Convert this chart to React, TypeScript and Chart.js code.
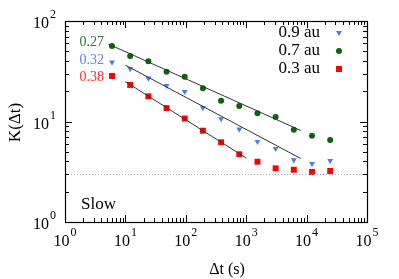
import React, { useEffect, useRef } from "react";
import { Chart, registerables } from "chart.js";

Chart.register(...registerables);

const times = [6, 12, 24, 48, 96, 192, 384, 768, 1536, 3072, 6144, 12288, 24576];
const k09 = [38.8, 33.5, 26.9, 22.7, 19.8, 13.7, 10.6, 8.36, 6.3, 5.36, 4.14, 3.8, 4.07];
const k07 = [56.4, 44.9, 39.7, 31.3, 27.9, 21.4, 16.1, 14.3, 12.1, 11.1, 8.29, 7.22, 6.55];
const k03 = [28.4, 23.1, 17.8, 13.6, 10.7, 8.1, 6.21, 4.72, 3.98, 3.42, 3.31, 3.15, 3.22];

const seriesLabels = ["0.9 au", "0.7 au", "0.3 au"];
const seriesColors = ["#4a7ee6", "#0b640b", "#ff0000"];
const slopeLabels = ["0.32", "0.27", "0.38"];
const slopeTextColors = ["#5b86e8", "#2a7a2a", "#ff2a2a"];
const slopeLabelK = [40.9, 61.8, 27.7];

// power-law fits K = A * t^-slope, over [t0, t1]
const fit09 = { a: 76.0, slope: 0.32, t0: 10, t1: 8000 };
const fit07 = { a: 92.2, slope: 0.27, t0: 5.2, t1: 8000 };
const fit03 = { a: 59.8, slope: 0.38, t0: 10, t1: 1000 };

const slowLevel = 3;
const slowLabel = "Slow";
const xTickValues = [1, 10, 100, 1000, 1e4, 1e5];
const xTickExps = ["0", "1", "2", "3", "4", "5"];
const yTickValues = [1, 10, 100];
const yTickExps = ["0", "1", "2"];
const xTitle = "Δt (s)";
const yTitle = "K(Δt)";

const FONT = "'Liberation Serif', 'DejaVu Serif', serif";

function fitLine(f: { a: number; slope: number; t0: number; t1: number }) {
  return [f.t0, f.t1].map((t) => ({ x: t, y: f.a * Math.pow(t, -f.slope) }));
}

function drawPow(ctx: CanvasRenderingContext2D, exp: string, x: number, baseline: number, align: "center" | "right") {
  ctx.font = `16px ${FONT}`;
  const wb = ctx.measureText("10").width;
  ctx.font = `12px ${FONT}`;
  const we = ctx.measureText(exp).width;
  const total = wb + 1 + we;
  const left = align === "center" ? x - total / 2 : x - total;
  ctx.textAlign = "left";
  ctx.textBaseline = "alphabetic";
  ctx.font = `16px ${FONT}`;
  ctx.fillText("10", left, baseline);
  ctx.font = `12px ${FONT}`;
  ctx.fillText(exp, left + wb + 1, baseline - 10);
}

const frame = {
  id: "frame",
  afterDatasetsDraw(chart: any) {
    const { ctx, chartArea: a, scales } = chart;
    const xs = scales.x;
    const ys = scales.y;
    ctx.save();
    // slow level dotted line
    const yS = ys.getPixelForValue(slowLevel);
    ctx.strokeStyle = "#aaaaaa";
    ctx.lineWidth = 1;
    ctx.setLineDash([1, 2]);
    ctx.beginPath();
    ctx.moveTo(a.left, Math.round(yS) + 0.5);
    ctx.lineTo(a.right, Math.round(yS) + 0.5);
    ctx.stroke();
    ctx.setLineDash([]);

    // ticks
    ctx.strokeStyle = "#000";
    ctx.lineWidth = 1;
    ctx.beginPath();
    for (let d = 0; d <= 5; d++) {
      for (let m = 1; m <= 9; m++) {
        const v = Math.pow(10, d) * m;
        if (v > 1e5) break;
        const px = Math.round(xs.getPixelForValue(v)) + 0.5;
        const len = m === 1 ? 7 : 4;
        ctx.moveTo(px, a.bottom);
        ctx.lineTo(px, a.bottom - len);
        ctx.moveTo(px, a.top);
        ctx.lineTo(px, a.top + len);
      }
    }
    for (let d = 0; d <= 2; d++) {
      for (let m = 1; m <= 9; m++) {
        const v = Math.pow(10, d) * m;
        if (v > 100) break;
        const py = Math.round(ys.getPixelForValue(v)) + 0.5;
        const len = m === 1 ? 7 : 4;
        ctx.moveTo(a.left, py);
        ctx.lineTo(a.left + len, py);
        ctx.moveTo(a.right, py);
        ctx.lineTo(a.right - len, py);
      }
    }
    ctx.stroke();
    ctx.lineWidth = 1.2;
    ctx.strokeRect(Math.round(a.left) + 0.5, Math.round(a.top) + 0.5, Math.round(a.right - a.left), Math.round(a.bottom - a.top));

    // tick labels
    ctx.fillStyle = "#000";
    xTickValues.forEach((v, i) => drawPow(ctx, xTickExps[i], xs.getPixelForValue(v), a.bottom + 24, "center"));
    yTickValues.forEach((v, i) => drawPow(ctx, yTickExps[i], a.left - 9, ys.getPixelForValue(v) + 7, "right"));

    // axis titles
    ctx.font = `16px ${FONT}`;
    ctx.textAlign = "center";
    ctx.textBaseline = "alphabetic";
    ctx.fillText(xTitle, (a.left + a.right) / 2 + 11, a.bottom + 52);
    ctx.save();
    ctx.translate(16, (a.top + a.bottom) / 2 + 1);
    ctx.rotate(-Math.PI / 2);
    ctx.font = `17px ${FONT}`;
    ctx.textBaseline = "middle";
    ctx.fillText(yTitle, 0, 0);
    ctx.restore();

    // slope labels
    ctx.font = `14px ${FONT}`;
    ctx.textAlign = "right";
    ctx.textBaseline = "middle";
    const x0 = xs.getPixelForValue(times[0]);
    [1, 0, 2].forEach((i) => {
      ctx.fillStyle = slopeTextColors[i];
      ctx.fillText(slopeLabels[i], x0 - 8, ys.getPixelForValue(slopeLabelK[i]));
    });

    // slow label
    ctx.fillStyle = "#000";
    ctx.textAlign = "left";
    ctx.font = `17px ${FONT}`;
    ctx.fillText(slowLabel, a.left + 16, ys.getPixelForValue(1.5));

    // legend
    ctx.textAlign = "right";
    ctx.font = `17px ${FONT}`;
    const styles = ["triangle", "circle", "rect"];
    seriesLabels.forEach((lab, i) => {
      const yy = a.top + 12 + i * 18;
      ctx.fillStyle = "#000";
      ctx.fillText(lab, a.right - 47, yy);
      ctx.fillStyle = seriesColors[i];
      const mx = a.right - 28;
      ctx.beginPath();
      if (styles[i] === "triangle") {
        ctx.moveTo(mx - 3, yy - 2);
        ctx.lineTo(mx + 3, yy - 2);
        ctx.lineTo(mx, yy + 3);
        ctx.closePath();
        ctx.fill();
      } else if (styles[i] === "circle") {
        ctx.arc(mx, yy, 3, 0, Math.PI * 2);
        ctx.fill();
      } else {
        ctx.fillRect(mx - 3, yy - 3, 6, 6);
      }
    });
    ctx.restore();
  },
};

export default function App() {
  const ref = useRef<HTMLCanvasElement>(null);
  useEffect(() => {
    document.body.style.margin = "0";
    const mk = (arr: number[]) => times.map((t, i) => ({ x: t, y: arr[i] }));
    const lineDs = (f: any) => ({
      type: "line" as const,
      data: fitLine(f),
      borderColor: "#333333",
      borderWidth: 1,
      pointRadius: 0,
      showLine: true,
      fill: false,
    });
    const chart = new Chart(ref.current!, {
      type: "scatter",
      data: {
        datasets: [
          lineDs(fit09),
          lineDs(fit07),
          lineDs(fit03),
          {
            label: seriesLabels[0],
            data: mk(k09),
            backgroundColor: seriesColors[0],
            borderWidth: 0,
            pointStyle: "triangle",
            rotation: 180,
            pointRadius: 3.4,
          },
          {
            label: seriesLabels[1],
            data: mk(k07),
            backgroundColor: seriesColors[1],
            borderWidth: 0,
            pointStyle: "circle",
            pointRadius: 3,
          },
          {
            label: seriesLabels[2],
            data: mk(k03),
            backgroundColor: seriesColors[2],
            borderWidth: 0,
            pointStyle: "rect",
            pointRadius: 4.2,
          },
        ] as any,
      },
      options: {
        animation: false,
        responsive: false,
        layout: { padding: { top: 21, right: 32, left: 0, bottom: 0 } },
        plugins: { legend: { display: false }, tooltip: { enabled: false } },
        scales: {
          x: {
            type: "logarithmic",
            min: 1,
            max: 1e5,
            grid: { display: false },
            border: { display: false },
            ticks: { display: false },
            afterFit: (s: any) => {
              s.height = 57;
            },
          },
          y: {
            type: "logarithmic",
            min: 1,
            max: 100,
            grid: { display: false },
            border: { display: false },
            ticks: { display: false },
            afterFit: (s: any) => {
              s.width = 65;
            },
          },
        },
      },
      plugins: [frame],
    });
    return () => chart.destroy();
  }, []);
  return <canvas ref={ref} width={399} height={279} style={{ display: "block" }} />;
}
